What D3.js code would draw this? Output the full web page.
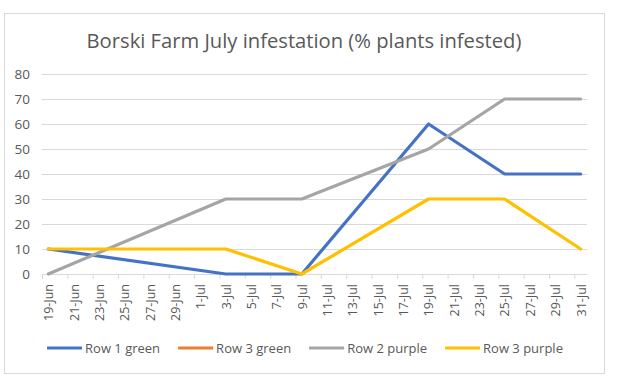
<!DOCTYPE html>
<html>
<head>
<meta charset="utf-8">
<script src="https://cdn.jsdelivr.net/npm/d3@7"></script>
<style>
  html, body { margin: 0; padding: 0; background: #fff; }
  svg text { font-family: "Open Sans", "Noto Sans", sans-serif; fill: #595959; }
</style>
</head>
<body>
<script>
// data
const dates = ['2019-06-19', '2019-07-03', '2019-07-09', '2019-07-19', '2019-07-25', '2019-07-31']
const row1Green = [10, 0, 0, 60, 40, 40]
const row3Green = [null, null, null, null, null, null]
const row2Purple = [0, 30, 30, 50, 70, 70]
const row3Purple = [10, 10, 0, 30, 30, 10]
const seriesNames = ['Row 1 green', 'Row 3 green', 'Row 2 purple', 'Row 3 purple']
const yTicks = [0, 10, 20, 30, 40, 50, 60, 70, 80]
const title = 'Borski Farm July infestation (% plants infested)'

const colors = ['#4472C4', '#ED7D31', '#A5A5A5', '#FFC000']
const parse = d3.timeParse('%Y-%m-%d')
const series = [row1Green, row3Green, row2Purple, row3Purple].map((vals, i) => ({
    name: seriesNames[i],
    color: colors[i],
    values: vals.map((v, j) => ({ date: parse(dates[j]), value: v }))
}))

const width = 617
const height = 382
const plot = { left: 42, right: 587, top: 74, bottom: 274 }

const svg = d3.select('body').append('svg')
    .attr('width', width)
    .attr('height', height)

// chart area frame
svg.append('rect')
    .attr('x', 4.5).attr('y', 13.5)
    .attr('width', 600).attr('height', 360)
    .attr('fill', '#fff')
    .attr('stroke', '#d9d9d9')

const halfDay = 12 * 3600 * 1000
const first = parse(dates[0])
const last = parse(dates[dates.length - 1])
const x = d3.scaleTime()
    .domain([new Date(+first - halfDay), new Date(+last + halfDay)])
    .range([plot.left, plot.right])
const y = d3.scaleLinear().domain([0, 80]).range([plot.bottom, plot.top])

// gridlines + y labels
svg.append('g')
    .attr('transform', `translate(${plot.left},0)`)
    .call(d3.axisLeft(y).tickValues(yTicks).tickSize(-(plot.right - plot.left)).tickPadding(12))
    .call(g => g.select('.domain').remove())
    .call(g => g.selectAll('.tick line').attr('stroke', '#d9d9d9'))
    .call(g => g.selectAll('.tick text').style('font-size', '13.5px'))

// x axis: tick marks sit between days, labels on days
const labelDays = d3.timeDay.every(2).range(first, new Date(+last + 1))
svg.append('g')
    .attr('transform', `translate(0,${plot.bottom})`)
    .call(d3.axisBottom(x).tickValues(labelDays.map(d => new Date(+d - halfDay))).tickSize(5).tickFormat(''))
    .call(g => g.select('.domain').attr('stroke', '#d9d9d9').attr('d', `M${plot.left},0.5H${plot.right}`))
    .call(g => g.selectAll('.tick line').attr('stroke', '#d9d9d9'))

svg.append('g')
    .attr('transform', `translate(0,${plot.bottom})`)
    .call(d3.axisBottom(x).tickValues(labelDays).tickSize(0).tickFormat(d3.timeFormat('%-d-%b')))
    .call(g => g.select('.domain').remove())
    .call(g => g.selectAll('.tick text')
        .style('font-size', '12.5px')
        .attr('text-anchor', 'end')
        .attr('transform', 'rotate(-90)')
        .attr('x', -10).attr('y', 0).attr('dy', '0.35em'))

// lines
const line = d3.line()
    .defined(d => d.value != null)
    .x(d => x(d.date))
    .y(d => y(d.value))

svg.append('g').selectAll('path')
    .data(series)
    .join('path')
    .attr('d', d => line(d.values))
    .attr('fill', 'none')
    .attr('stroke', d => d.color)
    .attr('stroke-width', 3.2)
    .attr('stroke-linejoin', 'round')
    .attr('stroke-linecap', 'round')

// title
svg.append('text')
    .attr('x', 304).attr('y', 48)
    .attr('text-anchor', 'middle')
    .style('font-size', '20.2px')
    .text(title)

// legend
const legend = svg.append('g').attr('transform', 'translate(0,348)')
const items = legend.selectAll('g').data(series).join('g')
items.append('line')
    .attr('x1', 0).attr('x2', 35)
    .attr('stroke', d => d.color)
    .attr('stroke-width', 3.2)
items.append('text')
    .attr('x', 38).attr('dy', '0.35em')
    .style('font-size', '13px')
    .text(d => d.name)

let cx = 0
const offsets = []
items.each(function () {
    offsets.push(cx)
    cx += this.getBBox().width + 18
})
const total = cx - 18
const startX = 305 - total / 2
items.attr('transform', (d, i) => `translate(${startX + offsets[i]},0)`)
</script>
</body>
</html>
